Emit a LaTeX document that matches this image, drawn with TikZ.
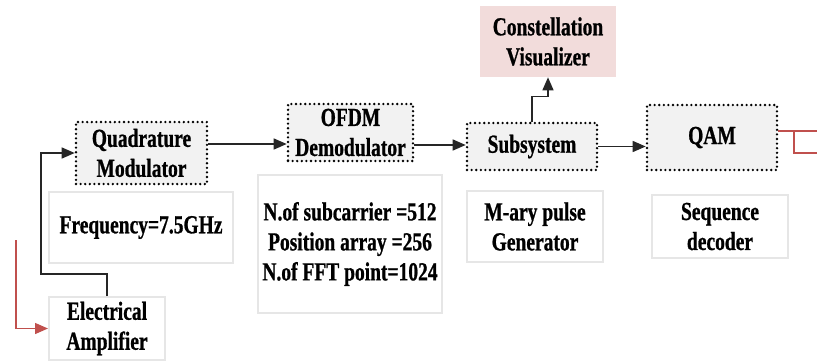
\documentclass[tikz,border=0pt]{standalone}
\usepackage{fontspec}
\setmainfont{Liberation Serif}[FakeStretch=0.75,BoldFeatures={FakeBold=0.8}]
\usepackage{tikz}
\usetikzlibrary{arrows.meta,calc}

\definecolor{blockgray}{HTML}{F2F2F2}
\definecolor{framegray}{HTML}{E6E6E6}
\definecolor{pinkfill}{HTML}{F2DCDB}
\definecolor{linkred}{HTML}{C0504D}

\begin{document}
\begin{tikzpicture}[x=1pt,y=-1pt,>={Triangle[length=13pt,width=11pt]},
                    semithick,font=\fontsize{26}{30}\selectfont\bfseries]
  \tikzstyle{block}=[rectangle,draw=black,line width=2.6pt,line cap=round,
                     dash pattern=on 0pt off 4.6pt,fill=blockgray,
                     align=center,inner sep=0pt]
  \tikzstyle{param}=[rectangle,draw=framegray,line width=2pt,fill=white,
                     align=center,inner sep=0pt]
  \tikzstyle{scope}=[rectangle,fill=pinkfill,align=center,inner sep=0pt]
  \tikzstyle{link}=[->,line width=1.4pt,black!85]
  \tikzstyle{redlink}=[line width=1.4pt,linkred]

  \useasboundingbox (0,0) rectangle (817,362);

  % main chain
  \node[block,minimum width=131,minimum height=62] (Quad) at (141.5,153)
       {Quadrature\\Modulator};
  \node[block,minimum width=125,minimum height=57] (OFDM) at (350.5,132.5)
       {OFDM\\Demodulator};
  \node[block,minimum width=130,minimum height=47] (Sub) at (532,146.5)
       {Subsystem};
  \node[block,minimum width=130,minimum height=65] (QAM) at (712,137.5)
       {QAM};
  \node[scope,minimum width=136,minimum height=71] (Const) at (548,41.5)
       {Constellation\\Visualizer};

  % parameter boxes
  \node[param,minimum width=184,minimum height=71] (Freq) at (141,227.5)
       {Frequency=7.5GHz};
  \node[param,minimum width=184,minimum height=138] (Nof) at (350,244)
       {N.of subcarrier =512\\Position array =256\\N.of FFT point=1024};
  \node[param,minimum width=136,minimum height=71] (Mary) at (535,226.5)
       {M-ary pulse\\Generator};
  \node[param,minimum width=136,minimum height=63] (Seq) at (720,226.5)
       {Sequence\\decoder};
  \node[param,minimum width=116,minimum height=63] (Amp) at (107,328.5)
       {Electrical\\Amplifier};

  \coordinate (in) at (16,240);
  \coordinate (fork) at (794,131);
  \coordinate (out1) at (817,131);
  \coordinate (out2) at (817,153);

  \path[link] (Quad.east |- 0,144) edge (OFDM.west |- 0,144)
              (OFDM.east |- 0,145) edge (Sub.west |- 0,145)
              (Sub.east) edge (QAM.west |- Sub.east);
  \draw[link] (Sub.north) -- ++(0,-25) -| (Const.south);
  \draw[link] (Amp.north) -- ++(0,-22) -| (41,153) -- (Quad.west);

  \draw[redlink,->] (in) |- (Amp.west);
  \draw[redlink] (QAM.east |- fork) -- (out1);
  \draw[redlink] (fork) |- (out2);
\end{tikzpicture}
\end{document}
